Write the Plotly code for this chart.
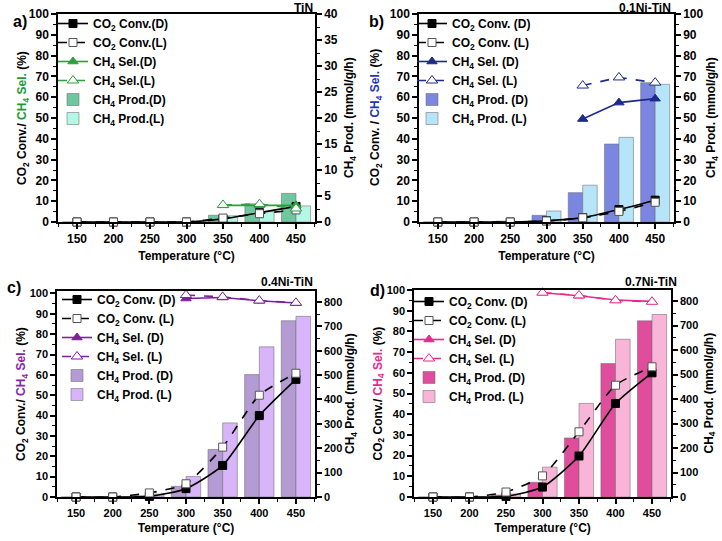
import plotly.graph_objects as go

W, H = 722, 541
temps = [150, 200, 250, 300, 350, 400, 450]

# (a) TiN
a_conv_d = [0, 0, 0, 0, 1.5, 4.5, 7.5]
a_conv_l = [0, 0, 0, 0, 1.9, 4.0, 5.8]
a_sel_d = [None, None, None, None, 8.0, 8.0, 8.0]
a_sel_l = [None, None, None, None, 8.2, 8.6, 6.5]
a_prod_d = [0, 0, 0, 0, 1.3, 3.5, 5.5]
a_prod_l = [0, 0, 0, 0, 1.2, 2.0, 3.1]

# (b) 0.1Ni-TiN
b_conv_d = [0, 0, 0, 0.6, 2.1, 6.0, 10.5]
b_conv_l = [0, 0, 0, 0.5, 2.0, 5.1, 9.5]
b_sel_d = [None, None, None, None, 49.5, 57.4, 59.3]
b_sel_l = [None, None, None, None, 65.6, 69.5, 67.0]
b_prod_d = [0, 0, 0.4, 3.2, 14.1, 37.5, 67.0]
b_prod_l = [0, 0, 0.2, 5.3, 17.7, 40.7, 66.2]

# (c) 0.4Ni-TiN
c_conv_d = [0, 0, 0.3, 4.1, 15.5, 40.0, 57.8]
c_conv_l = [0, 0, 2.0, 6.5, 24.5, 50.0, 60.8]
c_sel_d = [None, None, None, 97.5, 98.0, 96.4, 95.3]
c_sel_l = [None, None, None, 99.2, 98.3, 96.5, 95.4]
c_prod_d = [0, 0, 5, 44, 195, 502, 723]
c_prod_l = [0, 0, 12, 84, 304, 616, 741]

# (d) 0.7Ni-TiN
d_conv_d = [0, 0, 0.3, 4.8, 19.8, 45.2, 60.0]
d_conv_l = [0, 0, 2.4, 10.2, 31.5, 54.0, 62.9]
d_sel_d = [None, None, None, 98.7, 97.2, 95.2, 94.5]
d_sel_l = [None, None, None, 98.7, 97.4, 95.0, 94.3]
d_prod_d = [0, 0, 8, 60, 241, 545, 719]
d_prod_l = [0, 0, 12, 122, 382, 644, 745]

panel_labels = ["a)", "b)", "c)", "d)"]
panel_titles = ["TiN", "0.1Ni-TiN", "0.4Ni-TiN", "0.7Ni-TiN"]
sel_names = [("CH<sub>4</sub> Sel.(D)", "CH<sub>4</sub> Sel.(L)"),
             ("CH<sub>4</sub> Sel. (D)", "CH<sub>4</sub> Sel. (L)"),
             ("CH<sub>4</sub> Sel. (D)", "CH<sub>4</sub> Sel. (L)"),
             ("CH<sub>4</sub> Sel. (D)", "CH<sub>4</sub> Sel. (L)")]
conv_names = [("CO<sub>2</sub> Conv.(D)", "CO<sub>2</sub> Conv.(L)"),
              ("CO<sub>2</sub> Conv. (D)", "CO<sub>2</sub> Conv. (L)"),
              ("CO<sub>2</sub> Conv. (D)", "CO<sub>2</sub> Conv. (L)"),
              ("CO<sub>2</sub> Conv. (D)", "CO<sub>2</sub> Conv. (L)")]
prod_names = [("CH<sub>4</sub> Prod.(D)", "CH<sub>4</sub> Prod.(L)"),
              ("CH<sub>4</sub> Prod. (D)", "CH<sub>4</sub> Prod. (L)"),
              ("CH<sub>4</sub> Prod. (D)", "CH<sub>4</sub> Prod. (L)"),
              ("CH<sub>4</sub> Prod. (D)", "CH<sub>4</sub> Prod. (L)")]
left_titles = ["CO<sub>2</sub> Conv./ ", "CO<sub>2</sub> Conv. / ", "CO<sub>2</sub> Conv./ ", "CO<sub>2</sub> Conv./ "]
right_ranges = [(0, 40, 5), (0, 100, 10), (0, 845, 100), (0, 845, 100)]
left_ranges = [(0, 100), (0, 100), (0, 101.2), (0, 100)]

data = [
    (a_conv_d, a_conv_l, a_sel_d, a_sel_l, a_prod_d, a_prod_l),
    (b_conv_d, b_conv_l, b_sel_d, b_sel_l, b_prod_d, b_prod_l),
    (c_conv_d, c_conv_l, c_sel_d, c_sel_l, c_prod_d, c_prod_l),
    (d_conv_d, d_conv_l, d_sel_d, d_sel_l, d_prod_d, d_prod_l),
]

sel_colors = ["#2e9e3e", "#1c2a8c", "#7d1f9e", "#e8298c"]
label_colors = ["#1f9a3a", "#2536b0", "#8b22b0", "#e8298c"]
bar_d_colors = ["#6fc7a0", "#7b86e0", "#b59bd3", "#e04d9c"]
bar_l_colors = ["#b3f7e4", "#b6e5fa", "#d8b4f8", "#f8b5d8"]

# pixel boxes: (left, right, top, bottom)
boxes = [(58, 315, 14, 222), (419, 674, 14, 222), (57, 315, 291, 497), (414, 671, 290, 497)]
legend_pos = [(53, 9), (412, 9), (57, 285), (409, 287)]
label_pos = [(20, 21), (376, 21), (14, 287), (377, 290)]
title_pos = [(315, 8), (673, 8), (315, 282), (679, 282)]
ltitle_x = [23, 376, 22, 378]
rtitle_x = [350, 712, 351, 709]
tick_sizes = [12, 12, 11, 11]

fig = go.Figure()
FONT = "Liberation Sans, Arial, sans-serif"
layout = dict()
annotations = []

def px_x(v):
    return v / W

def px_y(v):
    return 1 - v / H

for i in range(4):
    conv_d, conv_l, sel_d, sel_l, prod_d, prod_l = data[i]
    xr = "x" if i == 0 else f"x{i+1}"
    yb = f"y{2*i+1}" if i > 0 else "y"
    yl = f"y{2*i+2}"
    leg = "legend" if i == 0 else f"legend{i+1}"
    sc = sel_colors[i]

    fig.add_trace(go.Scatter(x=temps, y=conv_d, xaxis=xr, yaxis=yl, legend=leg,
                             name=conv_names[i][0], mode="lines+markers",
                             line=dict(color="black", width=1.6, shape="spline", smoothing=0.6),
                             marker=dict(symbol="square", size=8, color="black",
                                         line=dict(color="black", width=1)),
                             cliponaxis=False))
    fig.add_trace(go.Scatter(x=temps, y=conv_l, xaxis=xr, yaxis=yl, legend=leg,
                             name=conv_names[i][1], mode="lines+markers",
                             line=dict(color="black", width=1.6, dash="dash", shape="spline", smoothing=0.6),
                             marker=dict(symbol="square", size=8, color="white",
                                         line=dict(color="#555555", width=1)),
                             cliponaxis=False))
    fig.add_trace(go.Scatter(x=temps, y=sel_d, xaxis=xr, yaxis=yl, legend=leg,
                             name=sel_names[i][0], mode="lines+markers",
                             line=dict(color=sc, width=1.6),
                             marker=dict(symbol="triangle-up", size=9, color=sc,
                                         line=dict(color=sc, width=1)),
                             cliponaxis=False))
    fig.add_trace(go.Scatter(x=temps, y=sel_l, xaxis=xr, yaxis=yl, legend=leg,
                             name=sel_names[i][1], mode="lines+markers",
                             line=dict(color=sc, width=1.6, dash="dash"),
                             marker=dict(symbol="triangle-up", size=10, color="white",
                                         line=dict(color=sc, width=1)),
                             cliponaxis=False))
    fig.add_trace(go.Bar(x=temps, y=prod_d, xaxis=xr, yaxis=yb, legend=leg,
                         name=prod_names[i][0], width=20, offset=-20,
                         marker=dict(color=bar_d_colors[i],
                                     line=dict(color="rgba(110,110,110,0.55)", width=1))))
    fig.add_trace(go.Bar(x=temps, y=prod_l, xaxis=xr, yaxis=yb, legend=leg,
                         name=prod_names[i][1], width=20, offset=0,
                         marker=dict(color=bar_l_colors[i],
                                     line=dict(color="rgba(110,110,110,0.55)", width=1))))

    l, r, t, b = boxes[i]
    xkey = "xaxis" if i == 0 else f"xaxis{i+1}"
    ybkey = "yaxis" if i == 0 else f"yaxis{2*i+1}"
    ylkey = f"yaxis{2*i+2}"
    axis_common = dict(showline=True, linecolor="black", linewidth=1.5,
                       ticks="outside", ticklen=5, tickwidth=1.5, tickcolor="black",
                       showgrid=False, zeroline=False, automargin=False,
                       tickfont=dict(family=FONT, size=tick_sizes[i], color="black", weight="bold"))
    layout[xkey] = dict(domain=[px_x(l), px_x(r)], anchor=yb, range=[124, 476],
                        tickmode="linear", tick0=150, dtick=50, mirror=True,
                        minor=dict(ticks="outside", ticklen=3, tickwidth=1.2, dtick=25, tick0=150,
                                   tickcolor="black"),
                        title=dict(text="Temperature (°C)", standoff=6,
                                   font=dict(family=FONT, size=12, color="black", weight="bold")),
                        **axis_common)
    rlo, rhi, rdt = right_ranges[i]
    layout[ybkey] = dict(domain=[px_y(b), px_y(t)], anchor=xr, side="right",
                         range=[rlo, rhi], tickmode="linear", tick0=0, dtick=rdt,
                         minor=dict(ticks="outside", ticklen=3, tickwidth=1.2, dtick=rdt / 2,
                                    tick0=0, tickcolor="black"),
                         **axis_common)
    layout[ylkey] = dict(overlaying=yb, anchor=xr, side="left",
                         range=list(left_ranges[i]), tickmode="linear", tick0=0, dtick=10,
                         minor=dict(ticks="outside", ticklen=3, tickwidth=1.2, dtick=5,
                                    tick0=0, tickcolor="black"),
                         **axis_common)
    lx, ly = legend_pos[i]
    layout[leg] = dict(x=px_x(lx), y=px_y(ly), xanchor="left", yanchor="top",
                       bgcolor="rgba(0,0,0,0)", tracegroupgap=0,
                       font=dict(family=FONT, size=12, color="black", weight="bold"))

    annotations.append(dict(x=px_x(label_pos[i][0]), y=px_y(label_pos[i][1]), xref="paper", yref="paper",
                            text=panel_labels[i], showarrow=False, xanchor="center", yanchor="middle",
                            font=dict(family=FONT, size=16, color="black", weight="bold")))
    annotations.append(dict(x=px_x(title_pos[i][0]), y=px_y(title_pos[i][1]), xref="paper", yref="paper",
                            text=panel_titles[i], showarrow=False, xanchor="right", yanchor="middle",
                            font=dict(family=FONT, size=12, color="black", weight="bold")))
    cy = (t + b) / 2
    annotations.append(dict(x=px_x(ltitle_x[i]), y=px_y(cy), xref="paper", yref="paper",
                            text=left_titles[i] + f"<span style='color:{label_colors[i]}'>CH<sub>4</sub> Sel.</span> (%)",
                            textangle=-90, showarrow=False, xanchor="center", yanchor="middle",
                            font=dict(family=FONT, size=12, color="black", weight="bold")))
    annotations.append(dict(x=px_x(rtitle_x[i]), y=px_y(cy), xref="paper", yref="paper",
                            text="CH<sub>4</sub> Prod. (mmol/g/h)",
                            textangle=-90, showarrow=False, xanchor="center", yanchor="middle",
                            font=dict(family=FONT, size=12, color="black", weight="bold")))

fig.update_layout(**layout)
fig.update_layout(width=W, height=H, margin=dict(l=0, r=0, t=0, b=0, autoexpand=False),
                  paper_bgcolor="white", plot_bgcolor="white", barmode="overlay",
                  annotations=annotations, showlegend=True,
                  font=dict(family=FONT, size=12, color="black", weight="bold"))
fig.write_html("out.html", config={"displayModeBar": False},
               post_script="document.body.style.margin='0';document.body.style.padding='0';")
